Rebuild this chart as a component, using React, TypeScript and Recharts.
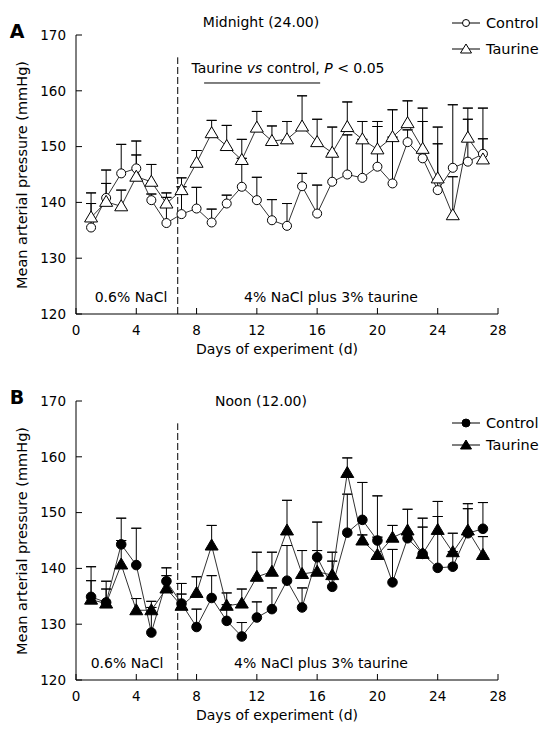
import React from 'react';
import { LineChart, Line, XAxis, YAxis, ErrorBar, ReferenceLine } from 'recharts';

const FONT = '"DejaVu Sans", Verdana, sans-serif';

const days = [1, 2, 3, 4, 5, 6, 7, 8, 9, 10, 11, 12, 13, 14, 15, 16, 17, 18, 19, 20, 21, 22, 23, 24, 25, 26, 27];
const xTicks = [0, 4, 8, 12, 16, 20, 24, 28];
const yTicks = [120, 130, 140, 150, 160, 170];

// A: midnight (24.00)
const ctrlA = [135.5, 140.8, 145.2, 146.1, 140.4, 136.3, 137.9, 138.9, 136.4, 139.8, 142.8, 140.4, 136.8, 135.8, 142.9, 138.0, 143.7, 145.0, 144.4, 146.4, 143.4, 150.8, 147.9, 142.2, 146.2, 147.3, 148.7];
const ctrlAUp = [139.8, 145.8, 150.4, 151.0, 141.5, 140.9, 142.8, 142.7, 138.8, 141.3, 147.9, 144.5, 140.5, 139.8, 145.2, 143.1, 148.8, 152.1, 151.3, 153.6, 151.7, 153.0, 154.5, 150.5, 157.5, 154.9, 151.4];
const tauA = [137.3, 140.1, 139.3, 144.6, 143.7, 139.8, 142.2, 147.1, 152.4, 150.1, 147.6, 153.4, 151.0, 151.3, 153.6, 150.8, 148.9, 153.5, 151.3, 149.5, 151.7, 154.2, 149.6, 144.3, 137.7, 151.6, 147.7];
const tauAUp = [141.7, 143.4, 142.2, 148.5, 146.8, 141.7, 144.4, 149.3, 154.7, 153.8, 151.3, 156.3, 153.7, 154.5, 159.1, 154.9, 153.5, 158.0, 154.5, 154.5, 156.6, 158.2, 156.9, 153.5, 144.6, 156.9, 156.9];

// B: noon (12.00)
const ctrlB = [134.9, 133.9, 144.3, 140.6, 128.5, 137.7, 133.7, 129.5, 134.7, 130.6, 127.8, 131.2, 132.7, 137.8, 133.0, 142.0, 136.7, 146.4, 148.7, 145.0, 137.5, 145.4, 142.6, 140.1, 140.3, 146.3, 147.1];
const ctrlBUp = [140.3, 137.7, 149.0, 147.2, 134.1, 140.1, 137.3, 132.7, 138.7, 133.5, 130.3, 134.0, 136.5, 144.1, 136.5, 148.3, 141.3, 153.3, 155.4, 153.0, 143.4, 146.5, 149.0, 149.3, 143.0, 150.7, 151.8];
const tauB = [134.4, 133.7, 140.7, 132.5, 132.5, 136.4, 133.3, 135.6, 144.1, 133.3, 133.7, 138.5, 139.4, 146.8, 139.0, 139.4, 138.8, 157.1, 145.0, 142.4, 145.5, 146.8, 142.6, 146.9, 142.9, 146.8, 142.4];
const tauBUp = [137.8, 136.3, 145.0, 134.6, 133.0, 138.7, 135.4, 138.5, 147.7, 135.6, 136.3, 142.9, 142.9, 152.2, 143.2, 143.2, 142.9, 159.8, 146.0, 145.6, 147.7, 150.6, 147.4, 152.0, 146.3, 151.6, 145.7];

function buildRows(ctrl: number[], ctrlUp: number[], tau: number[], tauUp: number[]) {
  return days.map((day, i) => {
    const ce = ctrlUp[i] - ctrl[i];
    const te = tauUp[i] - tau[i];
    return {
      day,
      ctrl: ctrl[i],
      tau: tau[i],
      ctrlStem: [0, ce],
      ctrlCap: [-ce, ce],
      tauStem: [0, te],
      tauCap: [-te, te],
    };
  });
}

const rowsA = buildRows(ctrlA, ctrlAUp, tauA, tauAUp);
const rowsB = buildRows(ctrlB, ctrlBUp, tauB, tauBUp);

function circleDot(filled: boolean) {
  return (p: any) => (
    <circle key={`c${p.index}`} cx={p.cx} cy={p.cy} r={filled ? 4.8 : 4.5} fill={filled ? '#000' : '#fff'} stroke="#000" strokeWidth={1} />
  );
}

function triDot(filled: boolean) {
  return (p: any) => (
    <polygon
      key={`t${p.index}`}
      points={`${p.cx},${p.cy - 6.5} ${p.cx - 6.5},${p.cy + 4.5} ${p.cx + 6.5},${p.cy + 4.5}`}
      fill={filled ? '#000' : '#fff'}
      stroke="#000"
      strokeWidth={1}
    />
  );
}

const tickStyle = { fill: '#000', fontSize: 13.5, fontFamily: FONT };

function Panel({ rows, filled }: { rows: any[]; filled: boolean }) {
  return (
    <LineChart width={555} height={368} data={rows} margin={{ top: 35, right: 57, bottom: 24, left: 0 }}>
      <XAxis
        type="number"
        dataKey="day"
        domain={[0, 28]}
        ticks={xTicks}
        interval={0}
        height={30}
        stroke="#000"
        tickSize={-6}
        tickMargin={17}
        tick={tickStyle}
        allowDataOverflow
      />
      <YAxis
        type="number"
        domain={[120, 170]}
        ticks={yTicks}
        interval={0}
        width={76}
        stroke="#000"
        tickSize={-6}
        tickMargin={16}
        tick={tickStyle}
        allowDataOverflow
      />
      <ReferenceLine
        segment={[{ x: 6.75, y: 120 }, { x: 6.75, y: 166 }]}
        stroke="#000"
        strokeDasharray="7 3"
      />
      {!filled && (
        <ReferenceLine
          segment={[{ x: 8.5, y: 161.4 }, { x: 16.2, y: 161.4 }]}
          stroke="#000"
        />
      )}
      <Line
        dataKey="ctrl"
        stroke="#333"
        strokeWidth={1}
        dot={circleDot(filled)}
        activeDot={false}
        isAnimationActive={false}
      >
        <ErrorBar dataKey="ctrlStem" direction="y" width={0} stroke="#000" strokeWidth={1} isAnimationActive={false} />
        <ErrorBar dataKey="ctrlCap" direction="y" width={5} stroke="#000" strokeWidth={1} isAnimationActive={false} />
      </Line>
      <Line
        dataKey="tau"
        stroke="#333"
        strokeWidth={1}
        dot={triDot(filled)}
        activeDot={false}
        isAnimationActive={false}
      >
        <ErrorBar dataKey="tauStem" direction="y" width={0} stroke="#000" strokeWidth={1} isAnimationActive={false} />
        <ErrorBar dataKey="tauCap" direction="y" width={5} stroke="#000" strokeWidth={1} isAnimationActive={false} />
      </Line>
    </LineChart>
  );
}

function T({ x, y, children, anchor = 'middle', style }: any) {
  const tx = anchor === 'middle' ? '-50%' : anchor === 'end' ? '-100%' : '0';
  return (
    <div
      style={{
        position: 'absolute',
        left: x,
        top: y,
        transform: `translate(${tx}, -50%)`,
        whiteSpace: 'nowrap',
        lineHeight: 1,
        fontFamily: FONT,
        fontSize: 14,
        color: '#000',
        ...style,
      }}
    >
      {children}
    </div>
  );
}

function LegendItem({ x, y, label, kind, filled }: any) {
  return (
    <div style={{ position: 'absolute', left: x, top: y - 8, height: 16, display: 'flex', alignItems: 'center' }}>
      <svg width={28} height={16}>
        <line x1={0} y1={8} x2={28} y2={8} stroke="#000" strokeWidth={1} />
        {kind === 'circle' ? (
          <circle cx={14} cy={8} r={filled ? 4 : 3.5} fill={filled ? '#000' : '#fff'} stroke="#000" />
        ) : (
          <polygon points="14,3 8.5,12 19.5,12" fill={filled ? '#000' : '#fff'} stroke="#000" />
        )}
      </svg>
      <span style={{ marginLeft: 6, fontFamily: FONT, fontSize: 14.5, lineHeight: 1 }}>{label}</span>
    </div>
  );
}

function Overlay({ top, letter, title, titleY, legY1, legY2, filled, inner }: any) {
  return (
    <>
      <T x={17} y={top + 31} style={{ fontWeight: 'bold', fontSize: 19 }}>{letter}</T>
      <T x={261} y={top + titleY}>{title}</T>
      <LegendItem x={452} y={top + legY1} label="Control" kind="circle" filled={filled} />
      <LegendItem x={452} y={top + legY2} label="Taurine" kind="tri" filled={filled} />
      <T x={22} y={top + 174.5} style={{ transform: 'translate(-50%, -50%) rotate(-90deg)', fontSize: 14.5 }}>
        Mean arterial pressure (mmHg)
      </T>
      <T x={277} y={top + 349}>Days of experiment (d)</T>
      <T x={inner[0]} y={top + 297}>0.6% NaCl</T>
      <T x={inner[1]} y={top + 297}>4% NaCl plus 3% taurine</T>
    </>
  );
}

export default function App() {
  return (
    <div style={{ position: 'absolute', left: 0, top: 0, width: 555, height: 736, background: '#fff' }}>
      <div style={{ position: 'absolute', left: 0, top: 0 }}>
        <Panel rows={rowsA} filled={false} />
      </div>
      <div style={{ position: 'absolute', left: 0, top: 366 }}>
        <Panel rows={rowsB} filled={true} />
      </div>
      <Overlay top={0} letter="A" title="Midnight (24.00)" titleY={22} legY1={23} legY2={49} filled={false} inner={[131, 331]} />
      <Overlay top={366} letter="B" title="Noon (12.00)" titleY={35} legY1={57} legY2={79} filled={true} inner={[127, 321]} />
      <T x={288} y={68}>
        Taurine <i>vs</i> control, <i>P</i> &lt; 0.05
      </T>
    </div>
  );
}
